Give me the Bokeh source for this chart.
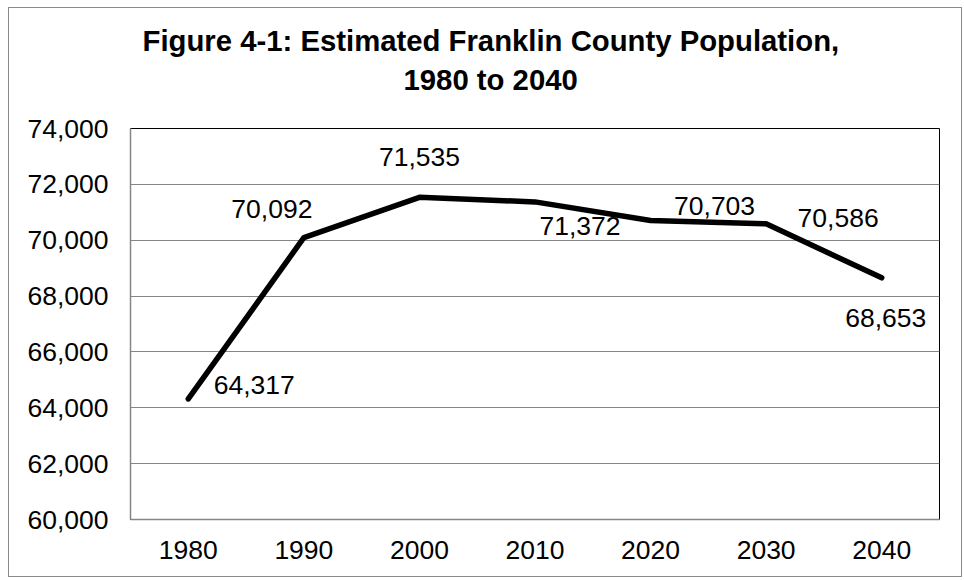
from bokeh.plotting import figure
from bokeh.models import FixedTicker, NumeralTickFormatter, Title, ColumnDataSource, Range1d
from bokeh.core.properties import value
from bokeh.embed import file_html
from bokeh.resources import INLINE

# ---- data ----
years = ["1980", "1990", "2000", "2010", "2020", "2030", "2040"]
population = [64317, 70092, 71535, 71372, 70703, 70586, 68653]
value_labels = ["64,317", "70,092", "71,535", "71,372", "70,703", "70,586", "68,653"]
y_ticks = [60000, 62000, 64000, 66000, 68000, 70000, 72000, 74000]
title_lines = ["Figure 4-1: Estimated Franklin County Population,", "1980 to 2040"]

# ---- label placement (screen pixel offsets, style) ----
label_dx = [66, -32, 0, 45, 64, 72, 4]
label_dy = [-14, -29, -40, 24, -15, -6, 40]

FONT = "Liberation Sans"
GRAY = "#868686"

src = ColumnDataSource(dict(x=years, y=population, lab=value_labels,
                            dx=label_dx, dy=label_dy))

p = figure(x_range=years, y_range=Range1d(y_ticks[0], y_ticks[-1]),
           width=954, height=570, output_backend="svg", toolbar_location=None,
           min_border_left=121, min_border_right=24, min_border_top=120,
           min_border_bottom=59)
p.styles = {"border": "1px solid #8a8a8a", "margin-left": "8px", "margin-top": "7px"}

p.title.visible = False
t2 = Title(text=title_lines[1], text_font=FONT, text_font_size="29.3px",
           text_font_style="bold", text_color="black", align="left",
           offset=273, standoff=66)
t1 = Title(text=title_lines[0], text_font=FONT, text_font_size="29.3px",
           text_font_style="bold", text_color="black", align="left",
           offset=12, standoff=-58)
p.add_layout(t2, "above")
p.add_layout(t1, "above")

p.line("x", "y", source=src, line_color="black", line_width=5.5,
       line_join="round", line_cap="round")
p.text("x", "y", text="lab", source=src, x_offset="dx", y_offset="dy",
       text_align="center", text_baseline="middle", text_color="black",
       text_font=value(FONT), text_font_size="26.5px")

p.outline_line_color = "black"
p.outline_line_width = 1

p.xgrid.grid_line_color = None
p.ygrid.grid_line_color = GRAY
p.ygrid.grid_line_width = 1
p.yaxis.ticker = FixedTicker(ticks=y_ticks)
p.yaxis.formatter = NumeralTickFormatter(format="0,0")

for ax in (p.xaxis, p.yaxis):
    ax.axis_line_color = GRAY
    ax.axis_line_width = 1.5
    ax.major_tick_line_color = None
    ax.minor_tick_line_color = None
    ax.major_tick_out = 0
    ax.major_tick_in = 0
    ax.minor_tick_out = 0
    ax.minor_tick_in = 0
    ax.major_label_text_font = FONT
    ax.major_label_text_font_size = "26.5px"
    ax.major_label_text_color = "black"
p.yaxis.major_label_standoff = 22
p.xaxis.major_label_standoff = 21

open("out.html", "w").write(file_html(p, INLINE))
